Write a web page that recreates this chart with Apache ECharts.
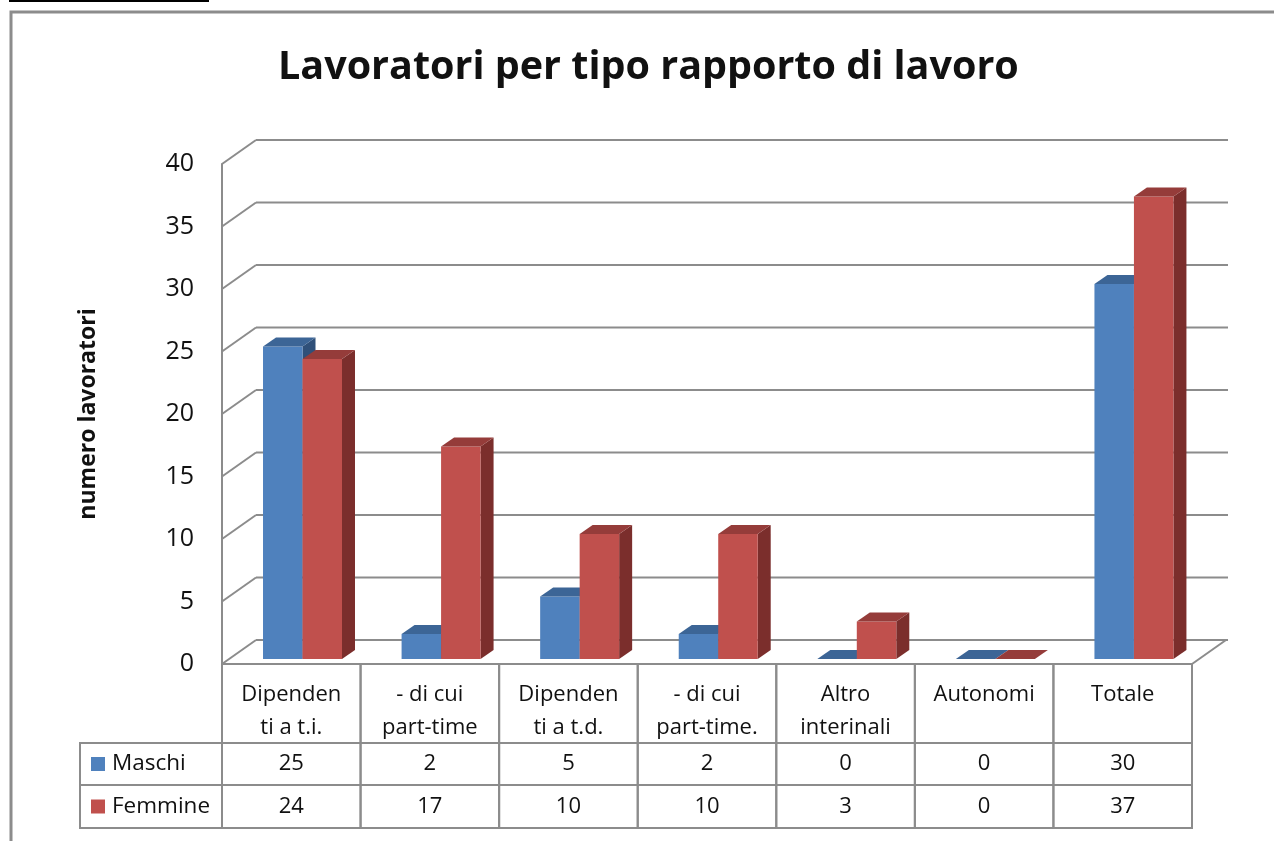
<!DOCTYPE html>
<html lang="it">
<head>
<meta charset="UTF-8">
<title>Lavoratori per tipo rapporto di lavoro</title>
<script src="https://cdn.jsdelivr.net/npm/echarts@6/dist/echarts.min.js"></script>
<style>
  html, body { margin: 0; padding: 0; background: #fff; }
  #chart-container { width: 1274px; height: 841px; }
</style>
</head>
<body>
<div id="chart-container"></div>
<script>
// dati
var categories = ['Dipenden\nti a t.i.', '- di cui\npart-time', 'Dipenden\nti a t.d.', '- di cui\npart-time.', 'Altro\ninterinali', 'Autonomi', 'Totale'];
var seriesNames = ['Maschi', 'Femmine'];
var maschi = [25, 2, 5, 2, 0, 0, 30];
var femmine = [24, 17, 10, 10, 3, 0, 37];
var yTicks = [0, 5, 10, 15, 20, 25, 30, 35, 40];

// stile
var frontColors = ['#4f81bd', '#c0504d'];
var topColors = ['#3c6596', '#953c3a'];
var sideColors = ['#2f5079', '#7b2e2c'];
var lineColor = '#8c8c8c';
var textColor = '#111';
var fontFamily = '"Open Sans", Lato, sans-serif';
var wallDepth = [34, -24];   // spostamento della parete di fondo
var barDepth = [13, -9];     // profondita' delle colonne

// pareti e pavimento
function renderFrame(params, api) {
    var cs = params.coordSys;
    var t = api.value(1);
    var y = api.coord([0, t])[1];
    var x0 = cs.x, x1 = cs.x + cs.width;
    var st = { stroke: lineColor, lineWidth: 2 };
    var children = [
        { type: 'line', shape: { x1: x0, y1: y, x2: x0 + wallDepth[0], y2: y + wallDepth[1] }, style: st },
        { type: 'line', shape: { x1: x0 + wallDepth[0], y1: y + wallDepth[1], x2: x1 + wallDepth[0] + 2, y2: y + wallDepth[1] }, style: st }
    ];
    if (t === 0) {
        children.push({ type: 'line', shape: { x1: x1, y1: y, x2: x1 + wallDepth[0], y2: y + wallDepth[1] }, style: st });
    }
    return { type: 'group', children: children };
}

// colonne 3D
function renderBar(k) {
    return function (params, api) {
        var i = api.value(0), v = api.value(1);
        var band = api.size([1, 0])[0];
        var base = api.coord([i, 0]);
        var top = api.coord([i, v]);
        var w = band * 0.285;
        var x0 = base[0] + band * (-0.204 + 0.285 * k);
        var yb = base[1] - 5, yt = top[1] - 5;
        var dx = barDepth[0], dy = barDepth[1];
        return {
            type: 'group',
            children: [
                { type: 'polygon', shape: { points: [[x0 + w, yt], [x0 + w + dx, yt + dy], [x0 + w + dx, yb + dy], [x0 + w, yb]] },
                  style: { fill: sideColors[k] } },
                { type: 'rect', shape: { x: x0, y: yt, width: w, height: yb - yt }, style: { fill: frontColors[k] } },
                { type: 'polygon', shape: { points: [[x0, yt], [x0 + w, yt], [x0 + w + dx, yt + dy], [x0 + dx, yt + dy]] },
                  style: { fill: topColors[k] } }
            ]
        };
    };
}

// tabella dati
function renderTable(params, api) {
    var cs = params.coordSys;
    var i = api.value(0);
    var band = api.size([1, 0])[0];
    var cx = api.coord([i, 0])[0];
    var xl = cx - band / 2;
    var yTop = cs.y + cs.height;
    var rows = [yTop, yTop + 79, yTop + 121, yTop + 164];
    var st = { stroke: lineColor, lineWidth: 2, fill: null };
    var txt = { fill: textColor, fontSize: 22, fontFamily: fontFamily, align: 'center', verticalAlign: 'middle' };
    var children = [
        { type: 'rect', shape: { x: xl, y: rows[0], width: band, height: rows[3] - rows[0] }, style: st },
        { type: 'line', shape: { x1: xl, y1: rows[1], x2: xl + band, y2: rows[1] }, style: st },
        { type: 'line', shape: { x1: xl, y1: rows[2], x2: xl + band, y2: rows[2] }, style: st },
        { type: 'text', x: cx, y: rows[0] + 14,
          style: { text: categories[i], fill: textColor, fontSize: 22, fontFamily: fontFamily, align: 'center', verticalAlign: 'top', lineHeight: 33 } },
        { type: 'text', x: cx, y: (rows[1] + rows[2]) / 2, style: Object.assign({ text: String(api.value(1)) }, txt) },
        { type: 'text', x: cx, y: (rows[2] + rows[3]) / 2, style: Object.assign({ text: String(api.value(2)) }, txt) }
    ];
    if (i === 0) {
        var hx = cs.x - 142;
        children.push({ type: 'rect', shape: { x: hx, y: rows[1], width: 142, height: rows[3] - rows[1] }, style: st });
        children.push({ type: 'line', shape: { x1: hx, y1: rows[2], x2: cs.x, y2: rows[2] }, style: st });
        for (var k = 0; k < seriesNames.length; k++) {
            var ym = (rows[k + 1] + rows[k + 2]) / 2;
            children.push({ type: 'rect', shape: { x: hx + 11, y: ym - 7, width: 14, height: 14 }, style: { fill: frontColors[k] } });
            children.push({ type: 'text', x: hx + 32, y: ym,
                style: { text: seriesNames[k], fill: textColor, fontSize: 22.5, fontFamily: fontFamily, align: 'left', verticalAlign: 'middle' } });
        }
    }
    return { type: 'group', children: children };
}

var option = {
    animation: false,
    textStyle: { fontFamily: fontFamily },
    title: {
        text: 'Lavoratori per tipo rapporto di lavoro',
        left: 273,
        top: 43,
        padding: 5,
        textStyle: { fontSize: 39.5, fontWeight: 'bold', color: textColor, fontFamily: fontFamily }
    },
    graphic: [
        { type: 'rect', shape: { x: 9, y: 0, width: 200, height: 2 }, style: { fill: '#000' } },
        { type: 'polyline', shape: { points: [[11, 841], [11, 12], [1274, 12]] }, style: { stroke: lineColor, lineWidth: 3, fill: null } }
    ],
    grid: { left: 222, right: 82, top: 164, bottom: 177 },
    xAxis: {
        type: 'category',
        data: categories,
        axisLine: { show: false },
        axisTick: { show: false },
        axisLabel: { show: false }
    },
    yAxis: {
        type: 'value',
        min: 0,
        max: 40,
        interval: 5,
        name: 'numero lavoratori',
        nameLocation: 'middle',
        nameGap: 122,
        nameTextStyle: { fontSize: 23, fontWeight: 'bold', color: textColor, fontFamily: fontFamily },
        axisLine: { show: true, lineStyle: { color: lineColor, width: 2 } },
        axisTick: { show: false },
        splitLine: { show: false },
        axisLabel: { fontSize: 25, color: textColor, margin: 28, fontFamily: fontFamily }
    },
    series: [
        { type: 'custom', name: 'pareti', z: 1, renderItem: renderFrame, silent: true,
          data: yTicks.map(function (t) { return [0, t]; }) },
        { type: 'custom', name: seriesNames[0], z: 2, renderItem: renderBar(0),
          data: maschi.map(function (v, i) { return [i, v]; }) },
        { type: 'custom', name: seriesNames[1], z: 3, renderItem: renderBar(1),
          data: femmine.map(function (v, i) { return [i, v]; }) },
        { type: 'custom', name: 'tabella', z: 4, renderItem: renderTable, silent: true,
          data: categories.map(function (c, i) { return [i, maschi[i], femmine[i]]; }) }
    ]
};

var chart = echarts.init(document.getElementById('chart-container'));
chart.setOption(option);
</script>
</body>
</html>
